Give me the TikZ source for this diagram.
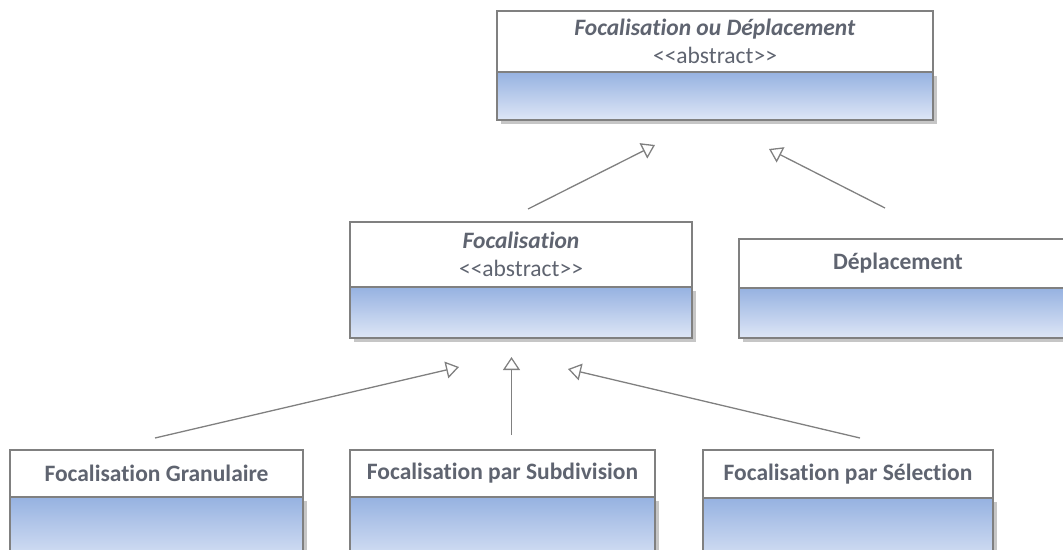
\documentclass[tikz,border=0pt]{standalone}
\usepackage{fontspec}
\setmainfont{Carlito}[Ligatures={TeX,NoCommon}]
\usetikzlibrary{positioning,arrows.meta,shadows,calc}
\definecolor{boxgray}{RGB}{128,128,128}
\definecolor{txtgray}{RGB}{95,100,112}
\definecolor{bodytop}{RGB}{150,178,225}
\definecolor{bodybot}{RGB}{222,230,246}
\newcommand{\stereo}[1]{{<}{<}#1{>}{>}}
\tikzset{
  classhead/.style={draw=boxgray, line width=1.5pt, fill=white, text=txtgray,
    font=\fontsize{23.5}{28}\selectfont, align=center, inner sep=0pt, outer sep=0pt,
    anchor=north west},
  classbody/.style={draw=boxgray, line width=1.5pt, top color=bodytop, bottom color=bodybot,
    inner sep=0pt, outer sep=0pt,
    drop shadow={shadow xshift=4pt, shadow yshift=-4pt, opacity=.45}},
  inherit/.style={draw=boxgray, line width=1.3pt, -{Triangle[open, length=13pt, width=17pt]}},
}
\begin{document}
\begin{tikzpicture}[x=1pt, y=-1pt]
  \useasboundingbox (0,0) rectangle (1063,549);
  % abstract classes
  \node[classhead, minimum width=436pt, minimum height=61pt] (top) at (497,11)
    {\textbf{\textit{Focalisation ou Déplacement}}\\\stereo{abstract}};
  \node[classbody, minimum width=436pt, minimum height=48pt, below=0pt of top] (top-c) {};
  \node[classhead, minimum width=342pt, minimum height=65pt] (foc) at (350,222)
    {\textbf{\textit{Focalisation}}\\\stereo{abstract}};
  \node[classbody, minimum width=342pt, minimum height=51pt, below=0pt of foc] (foc-c) {};
  \node[classhead, minimum width=342pt, minimum height=49pt] (dep) at (739,239)
    {\hspace*{-24pt}\textbf{Déplacement}};
  \node[classbody, minimum width=342pt, minimum height=50pt, below=0pt of dep] (dep-c) {};
  % concrete classes
  \node[classhead, minimum width=293pt, minimum height=47pt] (gran) at (10,450)
    {\textbf{Focalisation Granulaire}};
  \node[classbody, minimum width=293pt, minimum height=70pt, below=0pt of gran] (gran-c) {};
  \node[classhead, minimum width=305pt, minimum height=47pt] (subd) at (350,450)
    {\textbf{Focalisation par Subdivision}};
  \node[classbody, minimum width=305pt, minimum height=70pt, below=0pt of subd] (subd-c) {};
  \node[classhead, minimum width=290pt, minimum height=48pt] (sel) at (703,450)
    {\textbf{Focalisation par Sélection}};
  \node[classbody, minimum width=290pt, minimum height=70pt, below=0pt of sel] (sel-c) {};

  \coordinate (top-in1) at ($(top-c.south)+(-60,25)$);
  \coordinate (top-in2) at ($(top-c.south)+(54,29)$);
  \coordinate (foc-in1) at ($(foc-c.south)+(-62,29)$);
  \coordinate (foc-in2) at ($(foc-c.south)+(-9.5,19)$);
  \coordinate (foc-in3) at ($(foc-c.south)+(47,31)$);

  \draw[inherit] ($(foc.north)+(7,-13)$) -- (top-in1);
  \draw[inherit] ($(dep.north)+(-25,-31)$) -- (top-in2);
  \draw[inherit] ($(gran.north)+(-1.5,-12)$) -- (foc-in1);
  \draw[inherit] ($(subd.north)+(9,-15)$) -- (foc-in2);
  \draw[inherit] ($(sel.north)+(12,-12)$) -- (foc-in3);
\end{tikzpicture}
\end{document}
